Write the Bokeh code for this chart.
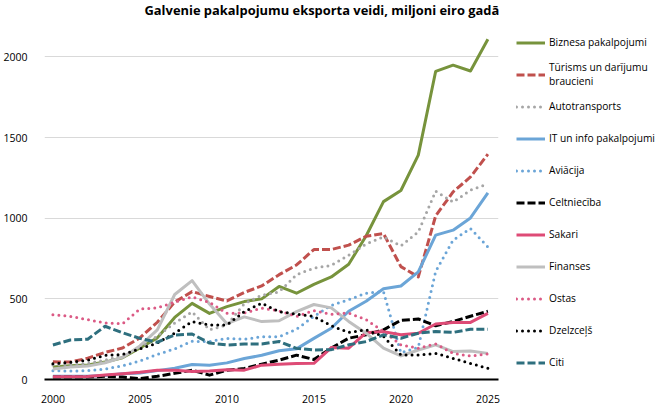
from bokeh.plotting import figure
from bokeh.models import Legend, LegendItem, FixedTicker, Range1d
from bokeh.embed import file_html
from bokeh.resources import INLINE

years = list(range(2000, 2026))

biznesa = [78, 85, 90, 108, 135, 195, 258, 385, 472, 410, 452, 483, 500, 577, 535, 590, 636, 715, 890, 1103, 1172, 1391, 1911, 1949, 1913, 2110]
turisms = [110, 108, 132, 168, 195, 258, 355, 480, 545, 515, 487, 540, 580, 650, 710, 806, 806, 833, 888, 905, 700, 636, 1015, 1163, 1256, 1397]
autotransports = [90, 92, 100, 120, 150, 195, 270, 350, 420, 308, 338, 470, 522, 543, 650, 690, 708, 771, 840, 884, 828, 915, 1168, 1100, 1174, 1213]
it_info = [20, 20, 20, 25, 35, 40, 55, 70, 93, 88, 103, 130, 150, 178, 190, 255, 318, 423, 485, 563, 580, 667, 895, 926, 1002, 1157]
aviacija = [55, 52, 55, 65, 85, 115, 155, 190, 237, 235, 255, 249, 265, 265, 312, 392, 460, 495, 535, 545, 165, 200, 670, 864, 936, 822]
celtnieciba = [15, 15, 15, 20, 15, 5, 20, 38, 58, 27, 58, 68, 95, 120, 151, 124, 195, 256, 277, 308, 367, 375, 333, 360, 392, 423]
sakari = [17, 17, 18, 28, 36, 45, 58, 58, 50, 53, 61, 58, 89, 95, 99, 100, 198, 194, 290, 297, 277, 287, 344, 354, 354, 410]
finanses = [65, 78, 83, 104, 137, 208, 308, 527, 613, 468, 346, 388, 359, 364, 421, 465, 444, 360, 287, 194, 146, 183, 215, 173, 177, 162]
ostas = [402, 392, 371, 350, 346, 437, 444, 479, 512, 478, 410, 413, 442, 426, 391, 427, 405, 412, 371, 298, 215, 194, 221, 162, 146, 158]
dzelzcels = [97, 107, 120, 150, 155, 190, 226, 288, 359, 338, 338, 421, 473, 421, 405, 391, 333, 292, 308, 267, 152, 152, 162, 131, 100, 69]
citi = [214, 245, 250, 330, 290, 255, 231, 276, 282, 226, 214, 220, 220, 236, 193, 183, 185, 215, 235, 277, 256, 287, 298, 292, 312, 312]

names = ["Biznesa pakalpojumi", "Tūrisms un darījumu\nbraucieni", "Autotransports", "IT un info pakalpojumi",
         "Aviācija", "Celtniecība", "Sakari", "Finanses", "Ostas", "Dzelzceļš", "Citi"]
series = [biznesa, turisms, autotransports, it_info, aviacija, celtnieciba, sakari, finanses, ostas, dzelzcels, citi]
colors = ["#77933C", "#C0504D", "#A6A6A6", "#6BA5D7", "#6BA5D7", "#000000", "#DE4B76", "#BFBFBF", "#DB5A85", "#000000", "#2E6F7E"]
dashes = ["solid", "8 3", "0 6", "solid", "0 6", "8 3", "solid", "solid", "0 6", "0 6", "8 3"]

x_ticks = [2000, 2005, 2010, 2015, 2020, 2025]
y_ticks = [0, 500, 1000, 1500, 2000]

title_text = "Galvenie pakalpojumu eksporta veidi, miljoni eiro gadā"
FONT = "Open Sans"

p = figure(frame_width=454, frame_height=359,
           min_border_left=35, min_border_right=10, min_border_top=12, min_border_bottom=25,
           x_range=Range1d(1999.517, 2025.61), y_range=Range1d(0, 2226),
           output_backend="svg", toolbar_location=None)
p.outline_line_color = None
p.background_fill_color = "white"
p.border_fill_color = "white"

p.title.text = title_text
p.title.align = "left"
p.title.offset = 100
p.title.standoff = 0
p.title.vertical_align = "top"
p.title.text_line_height = 1.3
p.title.text_font = FONT
p.title.text_font_style = "bold"
p.title.text_font_size = "12.9px"
p.title.text_color = "#000000"

items = []
for name, vals, col, dash in zip(names, series, colors, dashes):
    cap = "round" if dash == "0 6" else "butt"
    r = p.line(years, vals, line_color=col, line_width=3, line_dash=dash,
               line_cap=cap, line_join="round")
    items.append(LegendItem(label=name, renderers=[r]))

# axes
p.xaxis.ticker = FixedTicker(ticks=x_ticks)
p.xaxis.major_tick_line_color = None
p.xaxis.minor_tick_line_color = None
p.xaxis.axis_line_color = "black"
p.xaxis.axis_line_width = 2
p.xaxis.major_label_standoff = 9
p.xaxis.major_label_text_font = FONT
p.xaxis.major_label_text_font_size = "10.5px"
p.xaxis.major_label_text_color = "#000000"

p.yaxis.ticker = FixedTicker(ticks=y_ticks)
p.yaxis.major_tick_line_color = None
p.yaxis.minor_tick_line_color = None
p.yaxis.axis_line_color = None
p.yaxis.major_label_standoff = 11
p.yaxis.major_label_text_font = FONT
p.yaxis.major_label_text_font_size = "10.5px"
p.yaxis.major_label_text_color = "#000000"

p.xgrid.visible = False
p.ygrid.ticker = FixedTicker(ticks=y_ticks)
p.ygrid.grid_line_color = "#D9D9D9"
p.ygrid.grid_line_width = 1

legend = Legend(items=items, location=(13, -2), glyph_width=29, glyph_height=21,
                label_height=28, spacing=4, padding=5, margin=0, label_standoff=4,
                label_text_font=FONT, label_text_font_size="10.2px", label_text_color="#000000",
                border_line_alpha=0, background_fill_alpha=0)
p.add_layout(legend, "right")

open("out.html", "w").write(file_html(p, INLINE))
